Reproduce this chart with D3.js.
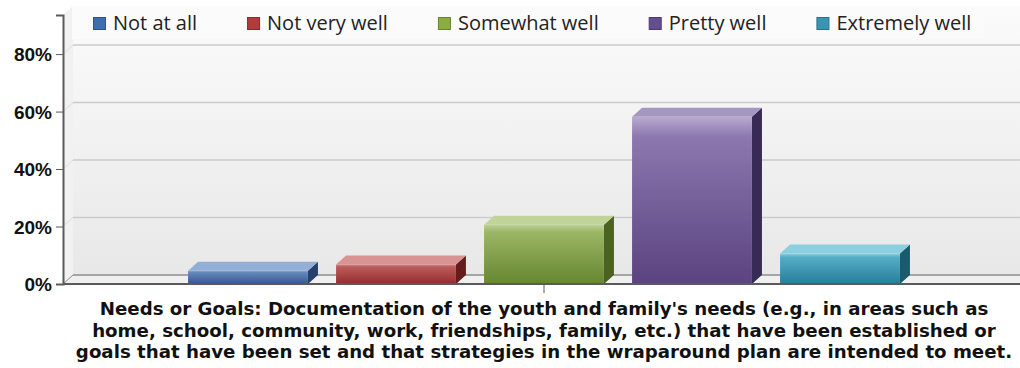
<!DOCTYPE html>
<html>
<head>
<meta charset="utf-8">
<script src="https://cdn.jsdelivr.net/npm/d3@7"></script>
<style>
  html, body { margin: 0; padding: 0; background: #ffffff; }
  svg { display: block; }
</style>
</head>
<body>
<div id="chart"></div>
<script>
// Survey item and response shares (percent of records)
const category = "Needs or Goals";
const categoryLabel = [
  "Needs or Goals: Documentation of the youth and family's needs (e.g., in areas such as",
  "home, school, community, work, friendships, family, etc.) that have been established or",
  "goals that have been set and that strategies in the wraparound plan are intended to meet."
];
const seriesNames = ["Not at all", "Not very well", "Somewhat well", "Pretty well", "Extremely well"];
const seriesValues = [4.6, 6.8, 20.6, 58.2, 10.6];
const yTicks = [0, 20, 40, 60, 80];
const yMax = 93.6;

// Palette per series: legend swatch, front face (light, mid, dark), top face, side face
const palette = [
  { swatch: "#3f6eb0", light: "#8aa8d2", mid: "#6689bd", dark: "#33588f", top: "#94afd6", side: "#25406b" },
  { swatch: "#b03c3c", light: "#d38a8a", mid: "#bd5c5c", dark: "#932c2c", top: "#d99393", side: "#661c1c" },
  { swatch: "#8bad3f", light: "#bcd195", mid: "#9bb766", dark: "#66862f", top: "#c0d49a", side: "#4a6322" },
  { swatch: "#654e90", light: "#b8abcf", mid: "#8c77ae", dark: "#5a4380", top: "#a597c0", side: "#372a55" },
  { swatch: "#3a95b3", light: "#8dd0e0", mid: "#56adc6", dark: "#257d98", top: "#8ccfe0", side: "#1b5a6c" }
];

const W = 1020, H = 368;
const depthX = 10, depthY = 9;

const svg = d3.select("#chart").append("svg")
  .attr("width", W).attr("height", H);
const defs = svg.append("defs");

// Scales
const y = d3.scaleLinear().domain([0, yMax]).range([284, 15]);
const x0 = d3.scaleBand().domain([category]).range([63, 1025]).paddingInner(0).paddingOuter(0.15);
const x1 = d3.scaleBand().domain(seriesNames).range([0, x0.bandwidth()]).paddingInner(0.19).paddingOuter(0.095);

const y0 = y(0);
const xLeft = x0.range()[0];

// Back wall gradient
const wallGrad = defs.append("linearGradient").attr("id", "wall")
  .attr("x1", 0).attr("y1", 0).attr("x2", 0).attr("y2", 1);
wallGrad.append("stop").attr("offset", "0%").attr("stop-color", "#fbfbfb");
wallGrad.append("stop").attr("offset", "100%").attr("stop-color", "#e8e8e8");

svg.append("rect")
  .attr("x", xLeft + depthX).attr("y", y(yMax) - depthY)
  .attr("width", W - xLeft - depthX).attr("height", y0 - depthY - (y(yMax) - depthY))
  .attr("fill", "url(#wall)");

// Left side wall
svg.append("path")
  .attr("d", `M${xLeft},${y(yMax)} L${xLeft + depthX},${y(yMax) - depthY} L${xLeft + depthX},${y0 - depthY} L${xLeft},${y0} Z`)
  .attr("fill", "#f1f1f1");

// Floor
svg.append("path")
  .attr("d", `M${xLeft},${y0} L${xLeft + depthX},${y0 - depthY} L${W},${y0 - depthY} L${W},${y0} Z`)
  .attr("fill", "#f0f0f0");

// Legend backdrop
svg.append("rect")
  .attr("x", 72).attr("y", 6).attr("width", 912).attr("height", 33)
  .attr("fill", "#fbfbfb");

// Gridlines on the back wall, with the diagonal on the side wall
const grid = svg.append("g");
grid.selectAll("line.h").data(yTicks.filter(d => d > 0)).join("line")
  .attr("class", "h")
  .attr("x1", xLeft + depthX).attr("x2", W)
  .attr("y1", d => y(d) - depthY).attr("y2", d => y(d) - depthY)
  .attr("stroke", "#cbcbcb").attr("stroke-width", 1.5);
grid.selectAll("line.d").data(yTicks.filter(d => d > 0)).join("line")
  .attr("class", "d")
  .attr("x1", xLeft).attr("x2", xLeft + depthX)
  .attr("y1", d => y(d)).attr("y2", d => y(d) - depthY)
  .attr("stroke", "#dcdcdc").attr("stroke-width", 1);

// Floor back edge and side-wall bottom edge
svg.append("line")
  .attr("x1", xLeft + depthX).attr("x2", W)
  .attr("y1", y0 - depthY).attr("y2", y0 - depthY)
  .attr("stroke", "#8e8e8e").attr("stroke-width", 1.5);
svg.append("line")
  .attr("x1", xLeft).attr("x2", xLeft + depthX)
  .attr("y1", y0).attr("y2", y0 - depthY)
  .attr("stroke", "#8e8e8e").attr("stroke-width", 1);

// Bar gradients
palette.forEach((p, i) => {
  const g = defs.append("linearGradient").attr("id", "front" + i)
    .attr("x1", 0).attr("y1", 0).attr("x2", 0).attr("y2", 1);
  g.append("stop").attr("offset", "0%").attr("stop-color", p.light);
  g.append("stop").attr("offset", "12%").attr("stop-color", p.mid);
  g.append("stop").attr("offset", "100%").attr("stop-color", p.dark);
});

// 3D bars
const bars = svg.append("g").selectAll("g.bar")
  .data(seriesNames.map((name, i) => ({ name, value: seriesValues[i], i })))
  .join("g").attr("class", "bar");

bars.each(function(d) {
  const g = d3.select(this);
  const bx = x0(category) + x1(d.name);
  const bw = x1.bandwidth();
  const top = y(d.value);
  const p = palette[d.i];
  // side face
  g.append("path")
    .attr("d", `M${bx + bw},${top} L${bx + bw + depthX},${top - depthY} L${bx + bw + depthX},${y0 - depthY} L${bx + bw},${y0} Z`)
    .attr("fill", p.side);
  // top face
  g.append("path")
    .attr("d", `M${bx},${top} L${bx + depthX},${top - depthY} L${bx + bw + depthX},${top - depthY} L${bx + bw},${top} Z`)
    .attr("fill", p.top);
  // front face
  g.append("rect")
    .attr("x", bx).attr("y", top)
    .attr("width", bw).attr("height", y0 - top)
    .attr("fill", `url(#front${d.i})`);
});

// Y axis
const yAxis = d3.axisLeft(y).tickValues(yTicks).tickFormat(d => d + "%").tickSize(7).tickPadding(4);
const yg = svg.append("g").attr("transform", `translate(${xLeft},0)`).call(yAxis);
yg.select(".domain").attr("stroke", "#5a5a5a").attr("stroke-width", 2);
yg.selectAll(".tick line").attr("stroke", "#5a5a5a").attr("stroke-width", 1);
yg.selectAll(".tick text")
  .attr("fill", "#111")
  .style("font-family", "'Liberation Sans', Arial, sans-serif")
  .style("font-weight", "bold")
  .style("font-size", "19px")
  .attr("dy", "0.36em");

// X axis (front edge of floor) with category tick
const xAxis = d3.axisBottom(x0).tickSize(9).tickFormat(() => "");
const xg = svg.append("g").attr("transform", `translate(0,${y0})`).call(xAxis);
xg.select(".domain").attr("stroke", "#5a5a5a").attr("stroke-width", 2)
  .attr("d", `M${xLeft},0H${W}`);
xg.selectAll(".tick line").attr("stroke", "#5a5a5a");

// Category label, three lines, spread to the label block width
const labelWidth = 932;
const cx = x0(category) + x0.bandwidth() / 2;
const label = svg.append("text")
  .attr("x", cx)
  .attr("text-anchor", "middle")
  .attr("fill", "#111")
  .style("font-family", "'DejaVu Sans', Verdana, sans-serif")
  .style("font-weight", "bold")
  .style("font-size", "18.2px");
const spans = label.selectAll("tspan").data(categoryLabel).join("tspan")
  .attr("x", cx)
  .attr("y", (d, i) => 315 + i * 21.5)
  .text(d => d);
let widest = 0, widestLen = 1;
spans.each(function(d) {
  const w = this.getComputedTextLength();
  if (w > widest) { widest = w; widestLen = d.length; }
});
label.style("letter-spacing", Math.max(0, (labelWidth - widest) / (widestLen - 1)) + "px");

// Legend
const legend = svg.append("g");
let lx = 93;
seriesNames.forEach((name, i) => {
  legend.append("rect")
    .attr("x", lx + 0.5).attr("y", 17.5).attr("width", 12).attr("height", 12)
    .attr("fill", palette[i].swatch)
    .attr("stroke", d3.color(palette[i].swatch).darker(0.8)).attr("stroke-width", 1);
  const t = legend.append("text")
    .attr("x", lx + 20).attr("y", 29.5)
    .attr("fill", "#222")
    .style("font-family", "'Open Sans', sans-serif")
    .style("font-size", "20px")
    .text(name);
  lx += 20 + t.node().getComputedTextLength() + 50;
});
</script>
</body>
</html>
